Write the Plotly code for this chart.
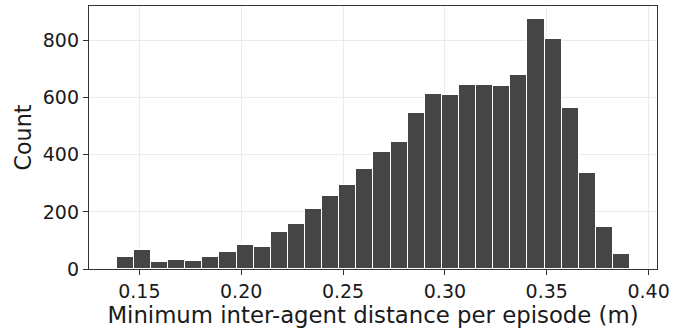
import plotly.graph_objects as go

# Histogram data
bin_start = 0.1389
bin_width = 0.0084
counts = [42, 66, 24, 32, 29, 42, 59, 83, 76, 130, 159, 211, 257, 294, 351,
          410, 445, 545, 612, 610, 643, 644, 641, 681, 875, 807, 565, 335, 148, 53]
x_ticks = [0.15, 0.20, 0.25, 0.30, 0.35, 0.40]
x_tick_labels = ["0.15", "0.20", "0.25", "0.30", "0.35", "0.40"]
y_ticks = [0, 200, 400, 600, 800]
y_tick_labels = ["0", "200", "400", "600", "800"]

centers = [bin_start + bin_width * (i + 0.5) for i in range(len(counts))]

fig = go.Figure()
fig.add_trace(go.Bar(
    x=centers, y=counts, width=bin_width,
    marker=dict(color="#454545", line=dict(color="#ffffff", width=1)),
    showlegend=False,
))

font = "DejaVu Sans"
axis_common = dict(
    showgrid=True, gridcolor="#ebebeb", gridwidth=1,
    showline=True, linecolor="#333333", linewidth=1.3, mirror=True,
    ticks="outside", ticklen=5, tickwidth=1.1, tickcolor="#333333",
    tickfont=dict(family=font, size=19, color="#1a1a1a"),
    zeroline=False, automargin=False,
)

fig.update_layout(
    width=696, height=331,
    margin=dict(l=89, r=39, t=6, b=62),
    paper_bgcolor="white", plot_bgcolor="white",
    bargap=0,
    font=dict(family=font, color="#1a1a1a"),
    xaxis=dict(
        range=[0.1253, 0.4041],
        tickvals=x_ticks, ticktext=x_tick_labels,
        title=dict(text="Minimum inter-agent distance per episode (m)",
                   font=dict(family=font, size=22.8, color="#1a1a1a"), standoff=0),
        **axis_common,
    ),
    yaxis=dict(
        range=[0, 921],
        tickvals=y_ticks, ticktext=y_tick_labels,
        title=dict(text="Count", font=dict(family=font, size=22.2, color="#1a1a1a"), standoff=5),
        **axis_common,
    ),
)

fig.write_html("out.html", config={"displayModeBar": False},
               post_script="document.body.style.margin='0';document.body.style.overflow='hidden';")
